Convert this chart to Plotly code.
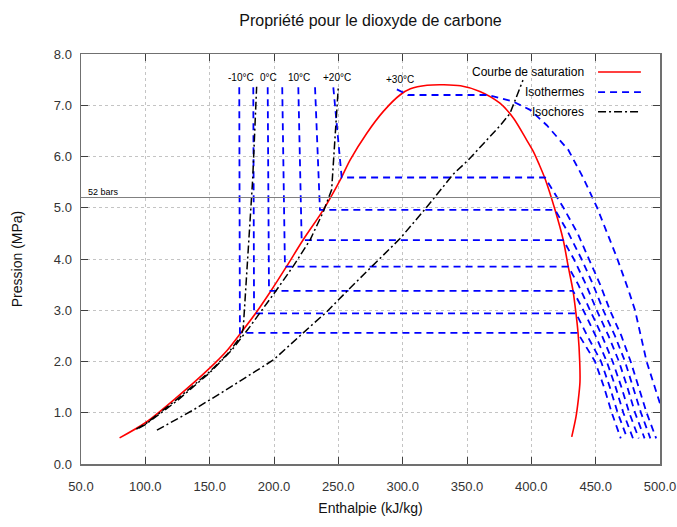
import plotly.graph_objects as go

# ---------------- data ----------------
# Saturation curve (enthalpy kJ/kg, pressure MPa)
sat_h = [80.0, 100.3, 124.4, 150.0, 163.7, 174.9, 186.0, 198.2, 209.9, 222.8, 238.3,
         252.0, 259.1, 272.0, 285.0, 297.9, 306.0, 319.0, 332.0, 345.0, 360.0, 375.6,
         386.0, 396.4, 401.5, 406.0, 410.6, 418.4, 424.8, 428.7, 432.4, 434.7, 436.3,
         437.6, 437.8, 436.5, 434.7, 431.4]
sat_p = [0.51, 0.81, 1.30, 1.87, 2.22, 2.58, 2.95, 3.40, 3.86, 4.38, 4.96,
         5.57, 5.93, 6.45, 6.88, 7.20, 7.32, 7.39, 7.40, 7.38, 7.27, 7.04,
         6.75, 6.32, 6.10, 5.85, 5.57, 4.96, 4.37, 3.85, 3.38, 2.94, 2.56,
         2.00, 1.60, 1.25, 0.92, 0.53]

# Isotherms
iso_m10_h = [173.0, 173.5, 436.0, 449.5, 456.5, 462.5, 469.5]
iso_m10_p = [7.35, 2.56, 2.56, 2.0, 1.5, 1.0, 0.5]
iso_m5_h = [183.9, 184.5, 434.7, 443.5, 454.2, 461.0, 467.1, 474.5]
iso_m5_p = [7.35, 2.94, 2.94, 2.5, 2.0, 1.5, 1.0, 0.5]
iso_0_h = [195.1, 196.1, 432.4, 440.4, 450.0, 458.6, 465.5, 471.5, 479.0]
iso_0_p = [7.35, 3.38, 3.38, 3.0, 2.5, 2.0, 1.5, 1.0, 0.5]
iso_5_h = [206.4, 208.5, 428.7, 436.5, 445.6, 455.0, 463.2, 470.0, 476.1, 483.5]
iso_5_p = [7.35, 3.85, 3.85, 3.5, 3.0, 2.5, 2.0, 1.5, 1.0, 0.5]
iso_10_h = [218.9, 221.5, 424.8, 433.0, 442.5, 450.8, 460.0, 468.1, 474.6, 480.6, 488.0]
iso_10_p = [7.35, 4.37, 4.37, 4.0, 3.5, 3.0, 2.5, 2.0, 1.5, 1.0, 0.5]
iso_15_h = [231.9, 235.7, 418.4, 429.0, 439.0, 448.0, 455.9, 465.0, 472.8, 479.2, 485.2, 492.5]
iso_15_p = [7.35, 4.96, 4.96, 4.5, 4.0, 3.5, 3.0, 2.5, 2.0, 1.5, 1.0, 0.5]
iso_20_h = [246.1, 252.6, 410.6, 425.0, 436.0, 445.0, 453.5, 461.1, 470.0, 477.2, 483.7, 489.6, 497.0]
iso_20_p = [7.35, 5.59, 5.59, 5.0, 4.5, 4.0, 3.5, 3.0, 2.5, 2.0, 1.5, 1.0, 0.5]
iso_30_h = [295.5, 304.0, 366.0, 386.0, 399.0, 412.0, 428.7, 440.0, 450.8, 459.0, 466.3, 475.4, 480.6, 489.6, 500.0]
iso_30_p = [7.31, 7.20, 7.20, 7.07, 6.91, 6.61, 6.13, 5.60, 5.02, 4.50, 4.04, 3.40, 3.00, 2.00, 1.18]

# Isochores
ich1_h = [93.0, 100.0, 124.0, 150.0, 164.0, 174.5, 176.1, 179.5, 183.4, 186.5]
ich1_p = [0.68, 0.78, 1.25, 1.80, 2.15, 2.50, 2.65, 4.00, 5.54, 7.36]
ich2_h = [95.0, 100.0, 124.0, 150.0, 167.1, 181.3, 202.1, 215.0, 228.0, 238.3, 244.8, 247.5, 250.0]
ich2_p = [0.70, 0.77, 1.22, 1.78, 2.22, 2.68, 3.40, 3.86, 4.37, 4.92, 5.35, 6.30, 7.36]
ich3_h = [109.0, 137.0, 163.0, 199.5, 228.0, 241.0, 259.0, 298.0, 317.0, 339.5, 351.0, 376.0, 383.4, 393.5]
ich3_p = [0.66, 1.05, 1.45, 2.03, 2.68, 2.97, 3.43, 4.40, 4.96, 5.66, 5.93, 6.61, 6.84, 7.49]

# Labelled isotherms (text, curve)
temp_labels = ["-10°C", "0°C", "10°C", "+20°C", "+30°C"]
p_52bars = 5.2
x_ticks = [50, 100, 150, 200, 250, 300, 350, 400, 450, 500]
y_ticks = [0, 1, 2, 3, 4, 5, 6, 7, 8]

# ---------------- figure ----------------
FONT = "Liberation Sans, Arial, sans-serif"
RED = "#ff0000"
BLUE = "#0000ff"
BLACK = "#000000"
ISO_DASH = "7px,5px"
ICH_DASH = "8px,3px,2px,3px"

fig = go.Figure()

fig.add_hline(y=p_52bars, line=dict(color="#808080", width=1))

fig.add_trace(go.Scatter(x=sat_h, y=sat_p, mode="lines", name="Courbe de saturation",
                         line=dict(color=RED, width=1.6, shape="spline", smoothing=0.8),
                         showlegend=False))

isotherms = [(iso_m10_h, iso_m10_p), (iso_m5_h, iso_m5_p), (iso_0_h, iso_0_p),
             (iso_5_h, iso_5_p), (iso_10_h, iso_10_p), (iso_15_h, iso_15_p),
             (iso_20_h, iso_20_p), (iso_30_h, iso_30_p)]
for i, (hh, pp) in enumerate(isotherms):
    fig.add_trace(go.Scatter(x=hh, y=pp, mode="lines", name="Isothermes",
                             legendgroup="iso", showlegend=False,
                             line=dict(color=BLUE, width=1.8, dash=ISO_DASH)))

for hh, pp in [(ich1_h, ich1_p), (ich2_h, ich2_p), (ich3_h, ich3_p)]:
    fig.add_trace(go.Scatter(x=hh, y=pp, mode="lines", name="Isochores",
                             legendgroup="ich", showlegend=False,
                             line=dict(color=BLACK, width=1.5, dash=ICH_DASH)))

# temperature labels above the liquid branches
labelled = [isotherms[0], isotherms[2], isotherms[4], isotherms[6], isotherms[7]]
label_dx = [1.3, 1.0, 0.5, 3.0, 2.5]
for txt, (hh, pp), dx in zip(temp_labels, labelled, label_dx):
    fig.add_annotation(x=hh[0] + dx, y=pp[0], text=txt, showarrow=False,
                       xanchor="center", yanchor="bottom", yshift=2,
                       font=dict(family=FONT, size=10, color="#000000"))

# 52 bars label
fig.add_annotation(x=x_ticks[0], y=p_52bars, text="52 bars", showarrow=False,
                   xanchor="left", yanchor="bottom", xshift=5, yshift=-1,
                   font=dict(family=FONT, size=9, color="#000000"))

# manual legend (text then sample, gnuplot style)
legend_items = [("Courbe de saturation", RED, "solid", 1.6),
                ("Isothermes", BLUE, ISO_DASH, 1.8),
                ("Isochores", BLACK, ICH_DASH, 1.5)]
leg_y = [0.956, 0.907, 0.859]
for (txt, col, dash, w), yy in zip(legend_items, leg_y):
    fig.add_annotation(xref="paper", yref="paper", x=0.872, y=yy, text=txt,
                       showarrow=False, xanchor="right", yanchor="middle",
                       font=dict(family=FONT, size=12, color="#000000"))
    fig.add_shape(type="line", xref="paper", yref="paper", x0=0.893, x1=0.967,
                  y0=yy, y1=yy, line=dict(color=col, width=w, dash=dash))

axis_common = dict(showline=True, linecolor="#707070", linewidth=1.5, mirror="allticks",
                   ticks="inside", ticklen=7, tickcolor="#404040", tickwidth=1,
                   showgrid=True, gridcolor="#c4c4c4", griddash="dot", gridwidth=1,
                   zeroline=False, tickfont=dict(family=FONT, size=13, color="#333333"),
                   tickformat=".1f", automargin=False)

fig.update_layout(
    width=677, height=527,
    margin=dict(l=81, r=17, t=54, b=63),
    paper_bgcolor="white", plot_bgcolor="white",
    showlegend=False,
    title=dict(text="Propriété pour le dioxyde de carbone", x=0.5, xref="paper",
               y=1 - 20 / 527, yref="container", xanchor="center", yanchor="middle",
               font=dict(family=FONT, size=16, color="#111111"), automargin=False),
    xaxis=dict(range=[x_ticks[0], x_ticks[-1]], tickvals=x_ticks,
               title=dict(text="Enthalpie (kJ/kg)", standoff=10,
                          font=dict(family=FONT, size=14, color="#111111")),
               ticklabelstandoff=10, **axis_common),
    yaxis=dict(range=[y_ticks[0], y_ticks[-1]], tickvals=y_ticks,
               title=dict(text="Pression (MPa)", standoff=28,
                          font=dict(family=FONT, size=14, color="#111111")),
               ticklabelstandoff=5, **axis_common),
)

# remove the default page margin/scrollbars so the figure fills the window exactly
fig.write_html("out.html",
               config={"displayModeBar": False, "staticPlot": True},
               post_script="document.body.style.margin='0px';"
                           "document.documentElement.style.overflow='hidden';"
                           "document.body.style.overflow='hidden';")
